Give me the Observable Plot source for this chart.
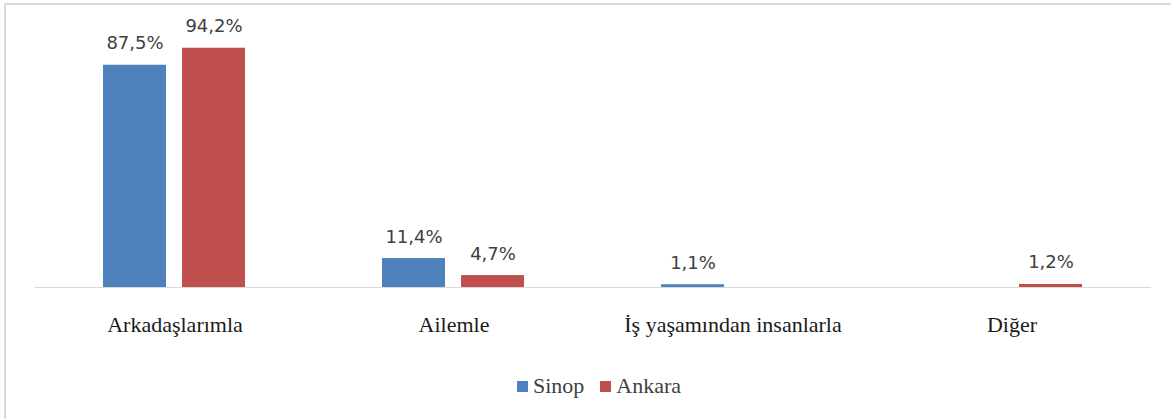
<!DOCTYPE html>
<html><head><meta charset="utf-8">
<script src="https://cdn.jsdelivr.net/npm/d3@7"></script>
<script src="https://cdn.jsdelivr.net/npm/@observablehq/plot@0.6"></script>
<style>
body{margin:0;background:#fff;}
#wrap{position:relative;width:1171px;height:419px;overflow:hidden;background:#fff;}
#frame{position:absolute;left:4px;top:3px;width:1200px;height:450px;border-left:2px solid #d9d9d9;border-top:2px solid #d9d9d9;}
#chart{position:absolute;left:0;top:0;}
#legend{position:absolute;left:517px;top:375px;display:flex;align-items:center;font-family:"Liberation Serif";font-size:22px;line-height:22px;color:#404040;white-space:nowrap;}
.sw{display:inline-block;width:11px;height:11px;margin-right:5px;}
.item{display:flex;align-items:center;margin-right:16px;}
</style></head><body>
<div id="wrap"><div id="frame"></div><div id="chart"></div><div id="legend"></div></div>
<script>
const categories = ["Arkadaşlarımla", "Ailemle", "İş yaşamından insanlarla", "Diğer"];
const seriesNames = ["Sinop", "Ankara"];
const seriesColors = ["#4f81bd", "#c0504d"];
const sinop = [87.5, 11.4, 1.1, null];
const ankara = [94.2, 4.7, null, 1.2];

const seriesValues = [sinop, ankara];
const rows = [];
categories.forEach((c, i) => {
  seriesNames.forEach((s, j) => {
    const v = seriesValues[j][i];
    if (v != null) rows.push({category: c, series: s, value: v});
  });
});
const fmt = v => v.toFixed(1).replace(".", ",") + "%";

const chart = Plot.plot({
  width: 1171,
  height: 355,
  marginLeft: 35,
  marginRight: 20,
  marginTop: 33,
  marginBottom: 68,
  style: {background: "transparent"},
  fx: {domain: categories, padding: 0, label: null},
  x: {domain: seriesNames, paddingInner: 0.2025, paddingOuter: 0.867, axis: null},
  y: {domain: [0, 100], axis: null},
  color: {domain: seriesNames, range: seriesColors},
  marks: [
    Plot.ruleY([0], {stroke: "#d9d9d9", strokeWidth: 1}),
    Plot.barY(rows, {fx: "category", x: "series", y: "value", fill: "series"}),
    Plot.text(rows, {fx: "category", x: "series", y: "value", text: d => fmt(d.value),
      dy: -16, lineAnchor: "bottom", fontFamily: "DejaVu Sans", fontSize: 18, fill: "#404040"}),
    Plot.axisFx({anchor: "bottom", tickSize: 0, tickPadding: 29, fontSize: 22,
      fontFamily: "Liberation Serif", fill: "#1a1a1a", label: null})
  ]
});
document.getElementById("chart").appendChild(chart);

const legend = document.getElementById("legend");
seriesNames.forEach((s, j) => {
  const item = document.createElement("span");
  item.className = "item";
  const sw = document.createElement("span");
  sw.className = "sw";
  sw.style.background = seriesColors[j];
  item.appendChild(sw);
  item.appendChild(document.createTextNode(s));
  legend.appendChild(item);
});
</script>
</body></html>
